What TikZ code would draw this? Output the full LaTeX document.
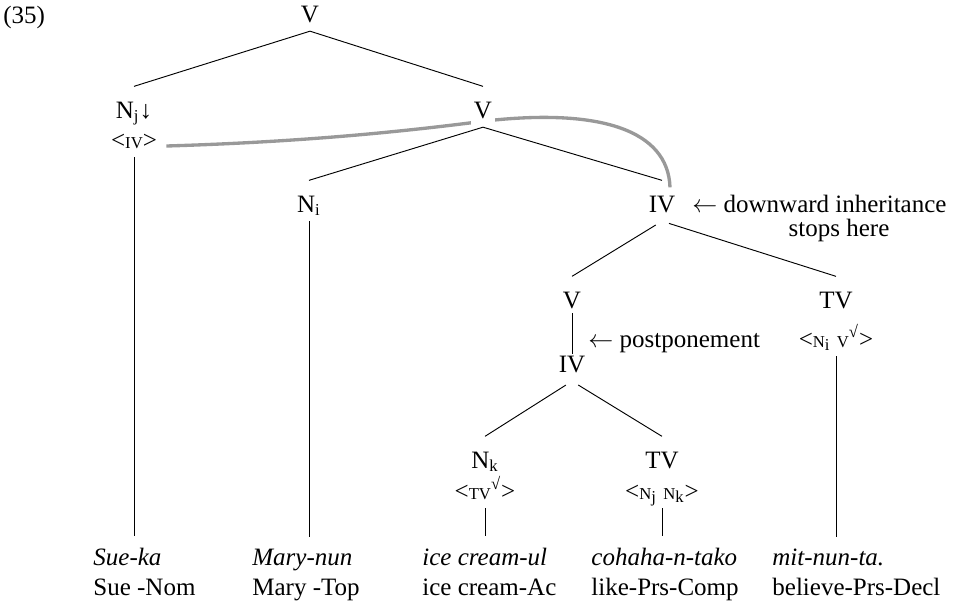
\documentclass[tikz,border=0pt]{standalone}
\usepackage{fontspec}
\setmainfont{Liberation Serif}
\usetikzlibrary{backgrounds, calc}
\newcommand{\fsc}[1]{{\fontsize{8}{9}\selectfont #1}}

\begin{document}
\begin{tikzpicture}[x=0.48pt, y=-0.48pt,
    font=\fontsize{12}{14.4}\selectfont,
    cat/.style={anchor=base, inner sep=0pt, text height=15pt, text depth=4.2pt},
    word/.style={anchor=base west, inner sep=0pt},
    note/.style={anchor=base west, inner sep=0pt},
    edge/.style={line width=0.45pt},
    leaf/.style={line width=0.45pt, shorten >=5.5pt},
    trail/.style={line width=1.6pt, gray!80}
]
    \useasboundingbox (0,0) rectangle (956,603);
    \node[note] (ex) at (3,23) {(35)};

    % categories
    \node[cat] (v1) at (310,22) {V};
    \node[cat] (nj) at (134,118) {N\textsubscript{j}↓};
    \node[cat] (ivf) at (134,148) {<\fsc{IV}>};
    \node[cat, fill=white, inner xsep=1.5pt] (v2) at (483,118) {V};
    \node[cat] (ni) at (309,212) {N\textsubscript{i}};
    \node[cat] (iv1) at (662,212) {IV};
    \node[cat] (v3) at (572,308) {V};
    \node[cat] (iv2) at (572,372) {IV};
    \node[cat] (tv1) at (836,308) {TV};
    \node[cat] (nivf) at (836,347) {<\fsc{N}\textsubscript{i} \fsc{V}\textsuperscript{√}>};
    \node[cat] (nk) at (485,468) {N\textsubscript{k}};
    \node[cat] (tvf) at (485,499) {<\fsc{TV}\textsuperscript{√}>};
    \node[cat] (tv2) at (662,468) {TV};
    \node[cat] (njnk) at (662,499) {<\fsc{N}\textsubscript{j} \fsc{N}\textsubscript{k}>};

    % notes
    \node[note] (dwn) at (692,212) {$\leftarrow$ downward inheritance};
    \node[note, anchor=base] (stops) at (839,236) {stops here};
    \node[note] (pst) at (588,347) {$\leftarrow$ postponement};

    % words
    \node[word] (w1) at (93,565) {\textit{Sue-ka}};
    \node[word] (g1) at (93,595) {Sue -Nom};
    \node[word] (w2) at (252,565) {\textit{Mary-nun}};
    \node[word] (g2) at (252,595) {Mary -Top};
    \node[word] (w3) at (422,565) {\textit{ice cream-ul}};
    \node[word] (g3) at (422,595) {ice cream-Ac};
    \node[word] (w4) at (591,565) {\textit{cohaha-n-tako}};
    \node[word] (g4) at (591,595) {like-Prs-Comp};
    \node[word] (w5) at (772,565) {\textit{mit-nun-ta.}};
    \node[word] (g5) at (772,595) {believe-Prs-Decl};

    % branches
    \draw[edge] (v1.south) -- (nj.north);
    \draw[edge] (v1.south) -- (v2.north);
    \draw[edge] (v2.south) -- (ni.north);
    \draw[edge] (v2.south) -- (iv1.north);
    \draw[edge, shorten <=3.5pt] (iv1.south) -- (v3.north);
    \draw[edge, shorten <=3.5pt] (iv1.south) -- (tv1.north);
    \draw[edge, shorten <=-2pt, shorten >=-6.5pt] (v3.south) -- (iv2.north);
    \draw[edge, shorten <=3.5pt] (iv2.south) -- (nk.north);
    \draw[edge, shorten <=3.5pt] (iv2.south) -- (tv2.north);

    % leaves
    \draw[leaf] (ivf.south) -- (ivf.south |- w1.north);
    \draw[leaf] (ni.south) -- (ni.south |- w2.north);
    \draw[leaf] (tvf.south) -- (tvf.south |- w3.north);
    \draw[leaf] (njnk.south) -- (njnk.south |- w4.north);
    \draw[leaf] (nivf.south) -- (nivf.south |- w5.north);

    % inheritance path
    \coordinate (arcmid) at (485,121);
    \begin{scope}[on background layer]
        \draw[trail] ($(ivf.base east)+(9,-2)$) .. controls (300,142) and (400,132) .. (arcmid)
            .. controls (600,108) and (668,130) .. ($(iv1.north)+(8,7)$);
    \end{scope}
\end{tikzpicture}
\end{document}
